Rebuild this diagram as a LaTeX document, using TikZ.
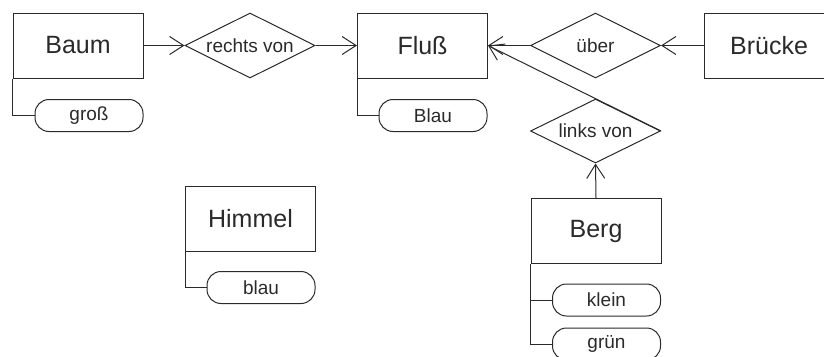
\documentclass[tikz,border=0pt]{standalone}
\usepackage{fontspec}
\setmainfont{Liberation Sans}
\usetikzlibrary{shapes.geometric,arrows.meta}

\definecolor{ink}{HTML}{2A2A2A}

\tikzset{
  entity/.style={rectangle, draw=ink, text=ink, minimum width=130pt,
    minimum height=65pt, inner sep=0pt,
    font=\fontsize{25}{30}\selectfont},
  relation/.style={diamond, draw=ink, text=ink, minimum width=130pt,
    minimum height=65pt, inner sep=0pt, aspect=2,
    font=\fontsize{19}{23}\selectfont},
  attrib/.style={rectangle, rounded corners=14pt, draw=ink, text=ink,
    minimum width=108pt, minimum height=32pt, inner sep=0pt,
    font=\fontsize{19}{23}\selectfont},
  link/.style={draw=ink,
    -{Straight Barb[length=14pt,width=18pt,line width=1pt]}},
  attlink/.style={draw=ink}
}

\begin{document}
\begin{tikzpicture}[x=1pt, y=-1pt, line width=1pt]
  \useasboundingbox (0,0) rectangle (824,356);
  \clip (0,0) rectangle (824,356);

  % entities
  \node[entity] (baum)    at (78,45.5)    {Baum};
  \node[entity] (fluss)   at (422.5,45.5) {Fluß};
  \node[entity] (bruecke) at (769,45.5)   {Brücke};
  \node[entity] (himmel)  at (250.5,218.5){Himmel};
  \node[entity] (berg)    at (596,231)    {Berg};

  % relations
  \node[relation] (rechts) at (250,45.5)  {rechts von};
  \node[relation] (ueber)  at (595.5,45.5){über};
  \node[relation, minimum height=64pt] (links) at (595.5,131) {links von};

  % attributes
  \node[attrib] (gross) at (89,115.5)  {groß};
  \node[attrib] (blau1) at (433,115.5) {Blau};
  \node[attrib] (blau2) at (261,287.5) {blau};
  \node[attrib] (klein) at (606.5,300) {klein};
  \node[attrib] (gruen) at (606.5,344) {grün};

  % relationship connectors
  \draw[link] (baum.east) -- (rechts.west);
  \draw[link] (rechts.east) -- (fluss.west);
  \draw[link] (ueber.west) -- (fluss.east);
  \draw[link] (bruecke.west) -- (ueber.east);
  \draw[link] (links.east) -- (fluss.east);
  \draw[link] (berg.north) -- (links.south);

  % attribute connectors
  \draw[attlink] (baum.south west) |- (gross.west);
  \draw[attlink] (fluss.south west) |- (blau1.west);
  \draw[attlink] (himmel.south west) |- (blau2.west);
  \draw[attlink] (berg.south west) |- (klein.west);
  \draw[attlink] (berg.south west) |- (gruen.west);
\end{tikzpicture}
\end{document}
